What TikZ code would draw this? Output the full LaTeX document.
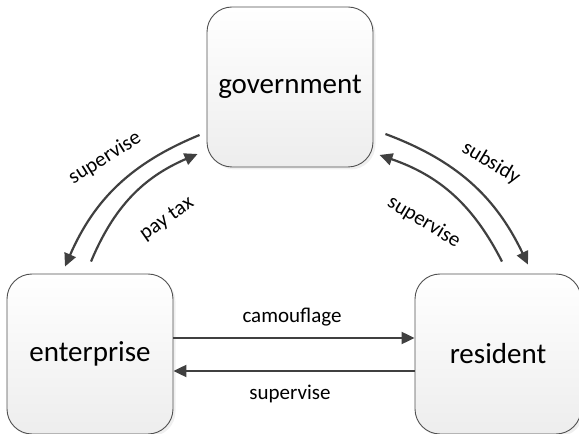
\documentclass[tikz,border=0pt]{standalone}
\usepackage{fontspec}
\setmainfont{Carlito}
\usetikzlibrary{arrows.meta,shadows}
\definecolor{edgegray}{HTML}{404040}
\definecolor{boxline}{HTML}{505050}
\begin{document}
\begin{tikzpicture}[x=1pt,y=1pt,
    party/.style={rectangle,rounded corners=25pt,draw=boxline,line width=0.9pt,
        top color=white,bottom color=black!7,minimum width=166pt,minimum height=160pt,
        drop shadow={shadow xshift=2.5pt,shadow yshift=-2.5pt,fill=black!12},
        font=\fontsize{29}{34}\selectfont,inner sep=0pt},
    flow/.style={draw=edgegray,line width=2.2pt,-{Triangle[length=13pt,width=12pt]}},
    lbl/.style={font=\fontsize{21}{25}\selectfont,inner sep=0pt}]
    \useasboundingbox (0,0) rectangle (579,434);
    \node[party] (gov) at (290,347) {government};
    \node[party] (ent) at (90,80) {enterprise};
    \node[party] (res) at (498,80) {resident};
    \draw[flow] ([shift={(-7,-48)}]gov.west) to[bend right=22] ([shift={(-25,7)}]ent.north);
    \draw[flow] ([shift={(1,12)}]ent.north) to[bend left=22] ([shift={(-9,-67)}]gov.west);
    \draw[flow] ([shift={(12,-47)}]gov.east) to[bend left=22] ([shift={(30,9)}]res.north);
    \draw[flow] ([shift={(4,12)}]res.north) to[bend right=22] ([shift={(6,-68)}]gov.east);
    \draw[flow] ([yshift=16]ent.east) -- ([yshift=16]res.west);
    \draw[flow] ([yshift=-17]res.west) -- ([yshift=-17]ent.east);
    \node[lbl,rotate=32] (supL) at (105,276) {supervise};
    \node[lbl,rotate=35] (tax) at (167,215) {pay tax};
    \node[lbl,rotate=-31] (sub) at (491,271) {subsidy};
    \node[lbl,rotate=-31] (supR) at (424,212) {supervise};
    \node[lbl] (cam) at (292,117) {camouflage};
    \node[lbl] (supB) at (290,40) {supervise};
\end{tikzpicture}
\end{document}
